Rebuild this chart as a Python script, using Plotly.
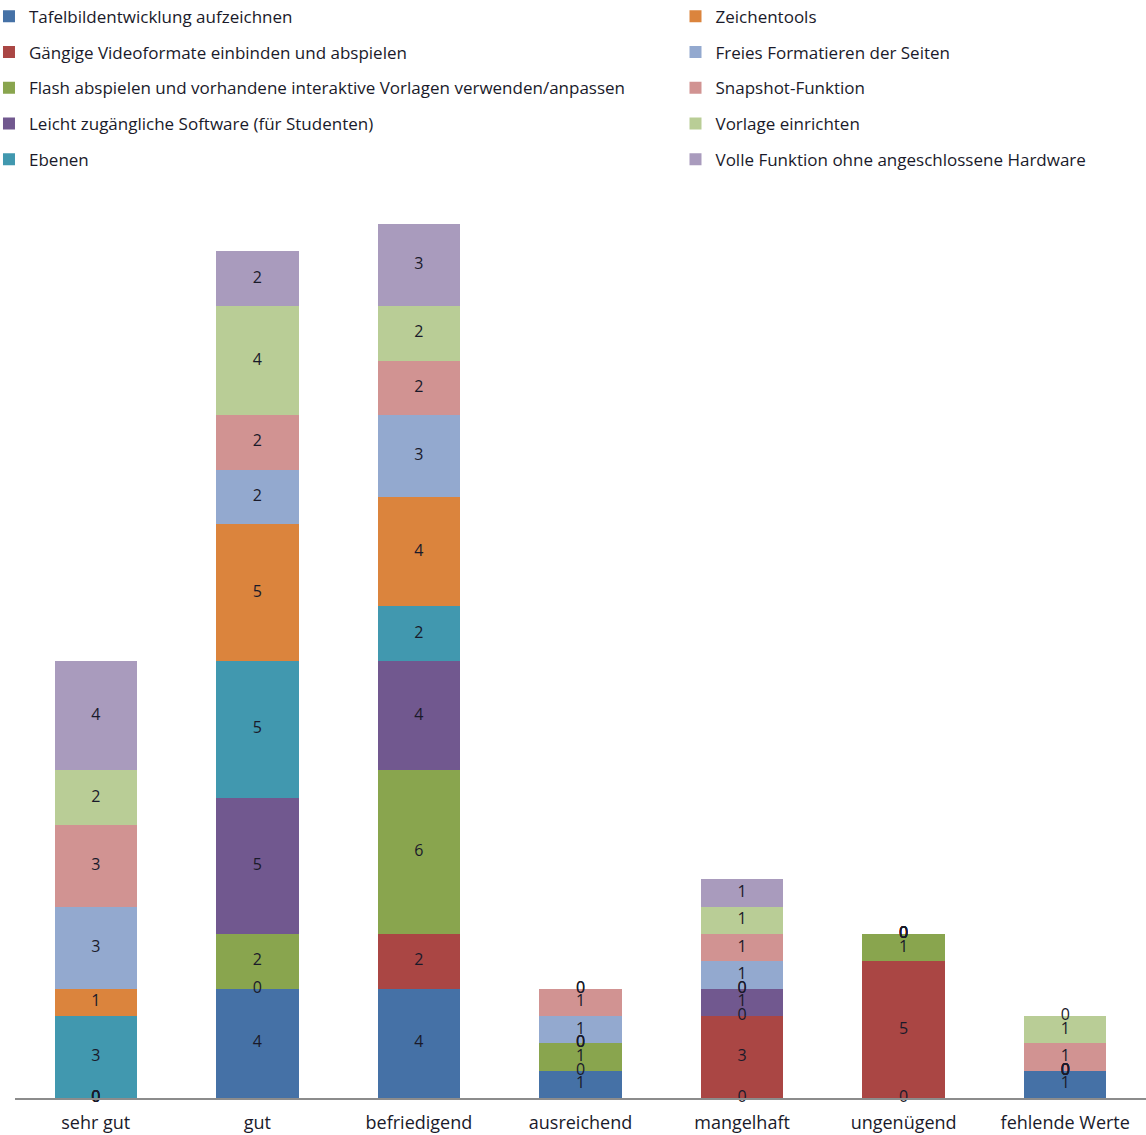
import plotly.graph_objects as go

categories = ["sehr gut", "gut", "befriedigend", "ausreichend", "mangelhaft", "ungenügend", "fehlende Werte"]

series_names = [
    "Tafelbildentwicklung aufzeichnen",
    "Gängige Videoformate einbinden und abspielen",
    "Flash abspielen und vorhandene interaktive Vorlagen verwenden/anpassen",
    "Leicht zugängliche Software (für Studenten)",
    "Ebenen",
    "Zeichentools",
    "Freies Formatieren der Seiten",
    "Snapshot-Funktion",
    "Vorlage einrichten",
    "Volle Funktion ohne angeschlossene Hardware",
]

tafel = [0, 4, 4, 1, 0, 0, 1]
video = [0, 0, 2, 0, 3, 5, 0]
flash = [0, 2, 6, 1, 0, 1, 0]
leicht = [0, 5, 4, 0, 1, 0, 0]
ebenen = [3, 5, 2, 0, 0, 0, 0]
zeichen = [1, 5, 4, 0, 0, 0, 0]
freies = [3, 2, 3, 1, 1, 0, 0]
snapshot = [3, 2, 2, 1, 1, 0, 1]
vorlage = [2, 4, 2, 0, 1, 0, 1]
volle = [4, 2, 3, 0, 1, 0, 0]

series_values = [tafel, video, flash, leicht, ebenen, zeichen, freies, snapshot, vorlage, volle]

colors = ["#4571A6", "#AA4644", "#89A54E", "#71588F", "#4198AF",
          "#DB843D", "#93A9CF", "#D19392", "#B9CD96", "#A99BBD"]

FONT = "Open Sans"
TXT = "#1A1A2A"

fig = go.Figure()
for i, (name, vals, col) in enumerate(zip(series_names, series_values, colors)):
    fig.add_trace(go.Bar(
        x=categories, y=vals, name=name, marker=dict(color=col, line=dict(width=0)),
        legend="legend" if i < 5 else "legend2",
        legendgroup=f"g{i}",
        hoverinfo="skip",
    ))

# data labels (including zero values) centered in each segment
lx, ly, lt = [], [], []
base = [0] * len(categories)
for vals in series_values:
    for j, v in enumerate(vals):
        lx.append(categories[j])
        ly.append(base[j] + v / 2)
        lt.append(str(v))
        base[j] += v
fig.add_trace(go.Scatter(
    x=lx, y=ly, text=lt, mode="text", showlegend=False, cliponaxis=False,
    textfont=dict(family=FONT, size=16, color=TXT), hoverinfo="skip",
))

legend_common = dict(
    yanchor="top", xanchor="left", orientation="v",
    traceorder="grouped", tracegroupgap=10.7,
    font=dict(family=FONT, size=17, color=TXT),
    bgcolor="rgba(0,0,0,0)",
)

fig.update_layout(
    width=1146, height=1135,
    barmode="stack", bargap=0.49,
    plot_bgcolor="white", paper_bgcolor="white",
    margin=dict(l=15, r=0, t=142, b=37, autoexpand=False),
    font=dict(family=FONT, size=16, color=TXT),
    xaxis=dict(showline=True, linecolor="#8C8C8C", linewidth=1.5, ticks="",
               ticklabelstandoff=8,
               tickfont=dict(family=FONT, size=18, color=TXT), showgrid=False),
    yaxis=dict(range=[0, 35], visible=False, showgrid=False),
    legend=dict(x=-0.023, y=1.150, **legend_common),
    legend2=dict(x=0.584, y=1.150, **legend_common),
)

fig.write_html("out.html")
